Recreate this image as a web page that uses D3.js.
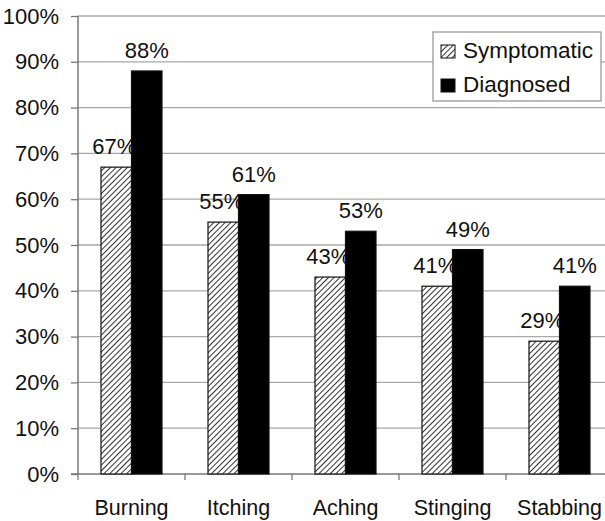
<!DOCTYPE html>
<html><head><meta charset="utf-8">
<script src="https://cdnjs.cloudflare.com/ajax/libs/d3/7.8.5/d3.min.js"></script>
<style>body{margin:0;background:#fff}svg{display:block}text{font-family:"Liberation Sans",Arial,sans-serif;fill:#111}</style>
</head><body>
<script>
const categories = ["Burning", "Itching", "Aching", "Stinging", "Stabbing"];
const seriesNames = ["Symptomatic", "Diagnosed"];
const symptomatic = [67, 55, 43, 41, 29];
const diagnosed = [88, 61, 53, 49, 41];
const yTicks = [0, 10, 20, 30, 40, 50, 60, 70, 80, 90, 100];

const W = 605, H = 521;
const FS = 22;
const svg = d3.select("body").append("svg").attr("width", W).attr("height", H);
const defs = svg.append("defs");
const pat = defs.append("pattern").attr("id", "hatch").attr("patternUnits", "userSpaceOnUse")
  .attr("width", 4).attr("height", 4).attr("patternTransform", "rotate(45)");
pat.append("rect").attr("width", 4).attr("height", 4).attr("fill", "#fff");
pat.append("line").attr("x1", 0).attr("y1", 0).attr("x2", 0).attr("y2", 4)
  .attr("stroke", "#333").attr("stroke-width", 2);

const pLeft = 78, pRight = 613, pTop = 16, pBottom = 474;
const y = d3.scaleLinear().domain([0, 100]).range([pBottom, pTop]);
const x0 = d3.scaleBand().domain(categories).range([pLeft, pRight]).padding(0);
const x1 = d3.scaleBand().domain(seriesNames).range([0, x0.bandwidth()]).paddingInner(0).paddingOuter(0.754);

// gridlines
svg.append("g").selectAll("line").data(yTicks.filter(d => d > 0)).join("line")
  .attr("x1", pLeft).attr("x2", W).attr("y1", d => y(d)).attr("y2", d => y(d))
  .attr("stroke", "#a8a8a8").attr("stroke-width", 1.3);

// y axis
const yAxis = d3.axisLeft(y).tickValues(yTicks).tickFormat(d => d + "%").tickSize(7).tickPadding(12);
const ga = svg.append("g").attr("transform", `translate(${pLeft},0)`).call(yAxis);
ga.select(".domain").attr("stroke", "#777").attr("stroke-width", 1.5).attr("d", `M0,${pTop}V${pBottom}`);
ga.selectAll(".tick line").attr("stroke", "#777").attr("stroke-width", 1.3);
ga.selectAll(".tick text").attr("font-size", FS).attr("fill", "#111")
  .attr("font-family", '"Liberation Sans",Arial,sans-serif');

// x axis
const xAxis = d3.axisBottom(x0).tickSize(0).tickPadding(0).tickFormat("");
const gx = svg.append("g").attr("transform", `translate(0,${pBottom})`).call(xAxis);
gx.select(".domain").attr("stroke", "#777").attr("stroke-width", 1.5).attr("d", `M${pLeft - 7},0H${W}`);
gx.selectAll(".tick").remove();
const bounds = categories.map(c => x0(c)).concat([pRight]);
gx.selectAll("line.sep").data(bounds).join("line").attr("class", "sep")
  .attr("x1", d => d).attr("x2", d => d).attr("y1", 0).attr("y2", 6)
  .attr("stroke", "#777").attr("stroke-width", 1.3);
svg.append("g").selectAll("text").data(categories).join("text")
  .attr("x", d => x0(d) + x0.bandwidth() / 2).attr("y", 515)
  .attr("text-anchor", "middle").attr("font-size", 21.5).text(d => d);

// bars: symptomatic, its labels, then diagnosed on top
const gS = svg.append("g");
gS.selectAll("rect").data(symptomatic).join("rect")
  .attr("x", (d, i) => x0(categories[i]) + x1("Symptomatic"))
  .attr("y", d => y(d)).attr("width", x1.bandwidth()).attr("height", d => pBottom - y(d))
  .attr("fill", "url(#hatch)").attr("stroke", "#111").attr("stroke-width", 1.2);
gS.selectAll("text").data(symptomatic).join("text")
  .attr("x", (d, i) => x0(categories[i]) + x1("Symptomatic") + x1.bandwidth() / 2 - 2)
  .attr("y", d => y(d) - 13).attr("text-anchor", "middle").attr("font-size", FS).text(d => d + "%");

const gD = svg.append("g");
gD.selectAll("rect").data(diagnosed).join("rect")
  .attr("x", (d, i) => x0(categories[i]) + x1("Diagnosed"))
  .attr("y", d => y(d)).attr("width", x1.bandwidth()).attr("height", d => pBottom - y(d))
  .attr("fill", "#000").attr("stroke", "#111").attr("stroke-width", 1.2);
gD.selectAll("text").data(diagnosed).join("text")
  .attr("x", (d, i) => x0(categories[i]) + x1("Diagnosed") + x1.bandwidth() / 2)
  .attr("y", d => y(d) - 13).attr("text-anchor", "middle").attr("font-size", FS).text(d => d + "%");

// legend
const lg = svg.append("g");
lg.append("rect").attr("x", 433).attr("y", 32).attr("width", 168).attr("height", 69)
  .attr("fill", "#fff").attr("stroke", "#999").attr("stroke-width", 1.3);
const fills = ["url(#hatch)", "#000"];
seriesNames.forEach((s, i) => {
  lg.append("rect").attr("x", 441).attr("y", 45 + i * 34).attr("width", 14).attr("height", 13)
    .attr("fill", fills[i]).attr("stroke", "#111").attr("stroke-width", 1);
  lg.append("text").attr("x", 463).attr("y", 58 + i * 34).attr("font-size", 22.5).text(s);
});
</script>
</body></html>
